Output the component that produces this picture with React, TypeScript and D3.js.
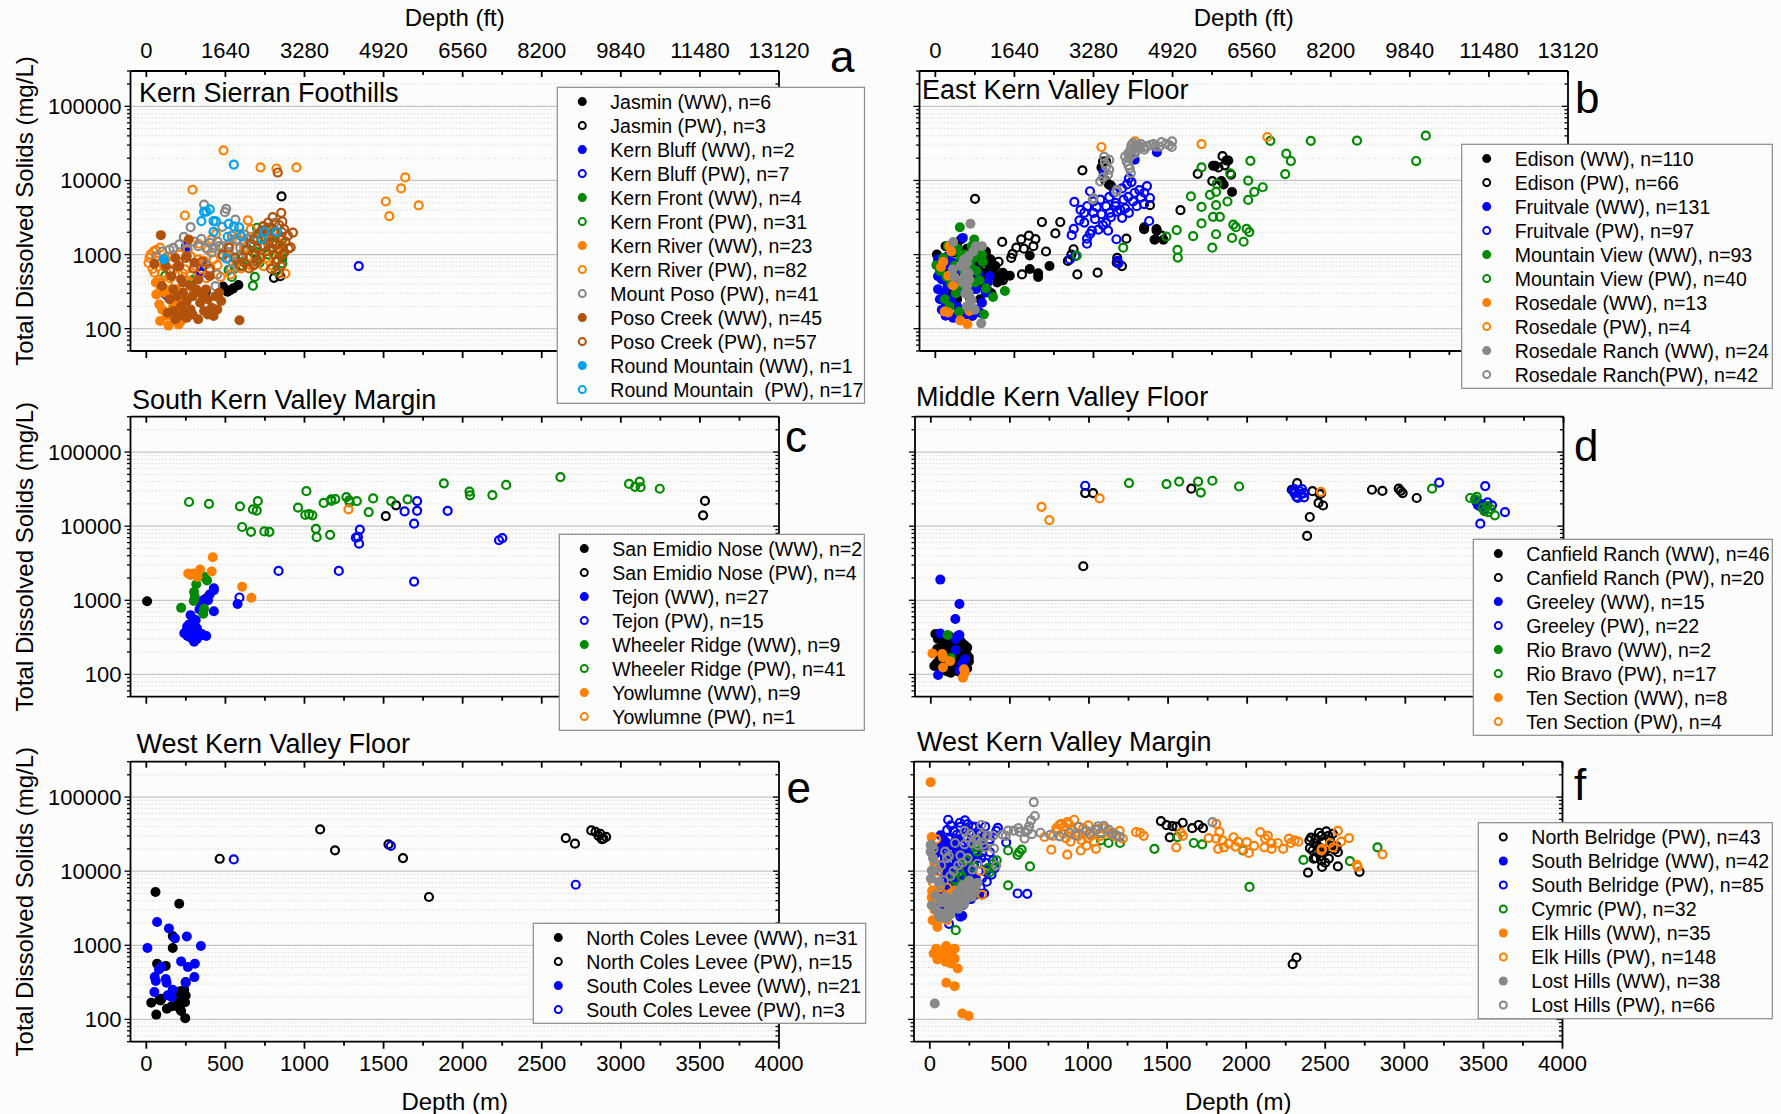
import React, { useEffect } from 'react';
import * as d3 from 'd3';

type Pt = [number, number]; // [depth m, TDS mg/L]

// ---------- a: Kern Sierran Foothills ----------
const aJasminWW: Pt[] = [[377, 318], [485, 370], [514, 316], [550, 350], [582, 388], [530, 330]];
const aJasminPW: Pt[] = [[855, 6100], [807, 485], [847, 510]];
const aKernBluffWW: Pt[] = [[251, 1300], [353, 700]];
const aKernBluffPW: Pt[] = [[1343, 700], [353, 570], [123, 290], [340, 600], [250, 1250], [360, 780], [140, 270]];
const aKernFrontWW: Pt[] = [[860, 900], [860, 1290], [775, 2300], [292, 440]];
const aKernFrontPW: Pt[] = [[674, 380], [686, 500], [679, 1050], [715, 770], [640, 1200], [700, 1600], [720, 2000], [760, 1800], [800, 1400], [830, 1100], [650, 900], [610, 700], [580, 800], [700, 2300], [745, 1300], [770, 1000], [820, 600], [860, 760], [120, 520], [300, 460], [560, 650], [620, 1500], [660, 1300], [690, 1100], [740, 2100], [790, 2300], [850, 1700], [600, 1000], [520, 620], [540, 500], [700, 850]];
const aKernRiverWW: Pt[] = [[87, 127], [205, 114], [82, 213], [63, 290], [87, 416], [184, 182], [208, 148], [220, 127], [120, 300], [150, 250], [170, 200], [100, 180], [130, 150], [195, 230], [230, 170], [160, 330], [110, 350], [240, 260], [60, 420], [190, 140], [140, 110], [175, 160], [215, 200]];
const aKernRiverPW: Pt[] = [[488, 25500], [722, 15000], [823, 14500], [949, 15000], [292, 7500], [1637, 11000], [1611, 7800], [1514, 5200], [1722, 4600], [1536, 3300], [244, 3370], [642, 2900], [879, 555], [27, 1000], [51, 570], [87, 1240], [135, 950], [171, 630], [208, 770], [244, 630], [280, 520], [328, 860], [365, 820], [389, 1170], [425, 860], [485, 1300], [534, 540], [570, 770], [642, 950], [666, 700], [763, 1600], [835, 1050], [14, 770], [111, 700], [232, 380], [135, 420], [184, 340], [280, 950], [413, 1600], [570, 1520], [618, 1240], [510, 1050], [40, 640], [70, 820], [100, 560], [150, 480], [200, 560], [260, 450], [310, 700], [350, 640], [400, 600], [450, 720], [520, 900], [600, 650], [700, 1200], [760, 900], [800, 700], [850, 1400], [60, 1150], [120, 880], [160, 760], [210, 1000], [260, 1150], [300, 300], [200, 260], [90, 350], [250, 200], [180, 130], [330, 1400], [440, 1900], [590, 1900], [680, 1700], [800, 2100], [20, 900], [45, 1100], [75, 450], [230, 560], [380, 480], [470, 500], [540, 1600], [660, 2200], [740, 700]];
const aMountPosoPW: Pt[] = [[365, 4730], [505, 4140], [497, 3730], [563, 2970], [280, 2340], [481, 2370], [348, 1630], [401, 1440], [425, 1230], [171, 1230], [63, 950], [461, 1300], [522, 1370], [618, 1870], [642, 1630], [437, 376], [449, 540], [534, 630], [739, 2420], [811, 2680], [147, 1170], [377, 1230], [570, 1600], [594, 1230], [522, 1060], [546, 775], [377, 736], [413, 1060], [485, 950], [328, 1300], [237, 1730], [582, 950], [666, 1370], [208, 1370], [300, 1500], [450, 1500], [540, 1800], [620, 1400], [700, 1900], [260, 1200], [100, 1100]];
const aPosoCreekWW: Pt[] = [[92, 1830], [51, 750], [589, 130], [147, 249], [171, 339], [196, 275], [220, 202], [232, 306], [256, 236], [280, 182], [292, 275], [316, 339], [340, 224], [365, 173], [389, 249], [413, 192], [437, 275], [461, 306], [473, 236], [208, 148], [256, 141], [171, 173], [184, 134], [232, 416], [280, 376], [208, 700], [256, 950], [268, 1600], [184, 900], [159, 510], [328, 460], [377, 339], [401, 510], [304, 775], [123, 700], [99, 376], [135, 164], [425, 148], [449, 182], [353, 290], [328, 134], [292, 156], [244, 173], [389, 156], [220, 460]];
const aPosoCreekPW: Pt[] = [[831, 12800], [853, 3660], [860, 2800], [872, 2200], [927, 1980], [913, 1250], [860, 1600], [799, 3200], [739, 2400], [770, 2700], [780, 1800], [800, 1500], [820, 1350], [840, 1150], [760, 1100], [740, 1300], [720, 900], [700, 800], [690, 1000], [650, 650], [594, 700], [401, 640], [522, 1240], [610, 920], [630, 1150], [660, 1400], [680, 1600], [710, 1900], [730, 2100], [750, 1700], [770, 1400], [790, 1200], [810, 1000], [830, 850], [850, 700], [870, 1050], [880, 1500], [895, 1800], [780, 2300], [810, 2000], [840, 2500], [860, 2000], [820, 800], [790, 640], [560, 900], [480, 1000], [300, 650], [350, 800], [200, 700], [150, 600], [250, 900], [700, 1200], [620, 780], [860, 1000], [900, 1200], [840, 560], [680, 720]];
const aRoundMtnWW: Pt[] = [[111, 860]];
const aRoundMtnPW: Pt[] = [[553, 16400], [365, 3770], [401, 4070], [348, 2830], [425, 2830], [440, 2800], [425, 2030], [553, 2400], [587, 2330], [599, 1770], [514, 1740], [729, 1630], [746, 2030], [823, 2030], [507, 880], [380, 3800], [520, 2600]];

// ---------- b: East Kern Valley Floor ----------
const bEdisonWW: Pt[] = [[10, 1000], [331, 910], [355, 775], [367, 630], [379, 510], [391, 420], [355, 300], [331, 330], [283, 376], [258, 460], [307, 570], [343, 700], [295, 775], [258, 1060], [210, 860], [162, 700], [113, 1060], [138, 1300], [162, 1600], [65, 1300], [41, 860], [89, 630], [186, 510], [234, 340], [283, 250], [89, 306], [138, 250], [471, 520], [597, 970], [722, 700], [597, 640], [650, 560], [650, 500], [1321, 2340], [1398, 2220], [1386, 1590], [1442, 1590], [1050, 15000], [1080, 18200], [1097, 8800], [1756, 15800], [1768, 15800], [1840, 18600], [1809, 9800], [1823, 8800], [1876, 7000], [415, 460], [427, 570], [300, 900], [320, 1100], [350, 860], [270, 700], [240, 600], [310, 450], [360, 560], [380, 700], [200, 1200], [230, 1000]];
const bEdisonPW: Pt[] = [[251, 5650], [423, 1480], [488, 1020], [512, 1240], [543, 1600], [592, 1800], [633, 1620], [674, 2750], [790, 2750], [759, 1930], [838, 820], [874, 1180], [898, 540], [1026, 570], [930, 13700], [1659, 12300], [1751, 9800], [1816, 21300], [1852, 18600], [1208, 1640], [1147, 780], [548, 540], [427, 450], [1357, 4640], [1550, 3970], [1060, 18000], [1075, 10000], [1110, 8500], [1400, 2100], [1430, 1800], [1830, 16000], [1790, 15000], [1870, 12000], [1320, 2200], [860, 1000], [700, 1100], [620, 1300], [560, 1200], [480, 900], [400, 800], [1150, 900], [1180, 700]];
const bFruitvaleWW: Pt[] = [[17, 860], [29, 630], [41, 460], [17, 340], [29, 250], [41, 180], [65, 150], [89, 156], [113, 140], [53, 306], [77, 376], [101, 250], [138, 200], [162, 164], [198, 156], [234, 148], [258, 182], [283, 164], [295, 224], [319, 306], [331, 420], [343, 510], [126, 510], [53, 860], [77, 950], [113, 775], [138, 376], [186, 306], [174, 1680], [246, 1060], [17, 510], [65, 224], [258, 340], [222, 250], [60, 700], [90, 420], [150, 600], [200, 450], [230, 700], [270, 560], [1063, 13000], [1261, 19000], [1401, 24000]];
const bFruitvalePW: Pt[] = [[879, 5140], [978, 7150], [918, 4000], [911, 2900], [875, 2220], [862, 1830], [959, 1640], [959, 1400], [886, 960], [850, 860], [1043, 5500], [1128, 6830], [1212, 8850], [1224, 10700], [1260, 6830], [1321, 6830], [1338, 8390], [1357, 5800], [1273, 4500], [1224, 3660], [1181, 3130], [1104, 3660], [1080, 2700], [1031, 2170], [1092, 2100], [1060, 2500], [1010, 3000], [1000, 3660], [1080, 4500], [1140, 4500], [1140, 5000], [1190, 5500], [1220, 6000], [942, 3660], [942, 2700], [990, 2100], [978, 1900], [1352, 2840], [1145, 1610], [1152, 823], [1157, 760], [1170, 4000], [1200, 4200], [1250, 5200], [1290, 7400], [1100, 6000], [1020, 4400], [1050, 3500], [1110, 3200], [1150, 3800], [1000, 5200], [960, 4500], [1240, 9500], [1180, 7800], [1300, 5900], [1320, 4800]];
const bMtnViewWW: Pt[] = [[155, 2340], [246, 1600], [295, 1000], [440, 322], [365, 267], [307, 156], [7, 720], [30, 600], [50, 900], [70, 500], [100, 400], [120, 700], [140, 1200], [160, 900], [180, 600], [200, 500], [220, 700], [240, 900], [260, 600], [280, 450], [300, 800], [320, 350], [60, 250], [90, 200], [130, 300], [170, 380], [210, 280], [250, 420], [190, 1000], [230, 1300], [270, 1100], [150, 170], [110, 1100], [80, 1300]];
const bMtnViewPW: Pt[] = [[3101, 40200], [3040, 18300], [2666, 34400], [2374, 34300], [2118, 34300], [2219, 23000], [2248, 18300], [2212, 12200], [1992, 18400], [1978, 9960], [2070, 8100], [2017, 7000], [1978, 5470], [1864, 12500], [1847, 5200], [1780, 8970], [1775, 7000], [1736, 6400], [1616, 6100], [1683, 15000], [1775, 4650], [1683, 4400], [1799, 3230], [1756, 3230], [1683, 2630], [1884, 2530], [1900, 2340], [1968, 2220], [1985, 2010], [1876, 1680], [1949, 1490], [1775, 1880], [1630, 1770], [1526, 2140], [1461, 1750], [1531, 1155], [1533, 910], [1751, 1240], [1188, 1240], [894, 970]];
const bRosedaleWW: Pt[] = [[89, 1300], [36, 680], [82, 520], [82, 165], [157, 129], [203, 115], [215, 173], [113, 383], [100, 1100], [200, 380], [60, 170], [50, 800], [170, 450]];
const bRosedalePW: Pt[] = [[2099, 38600], [1683, 31000], [1263, 33700], [1050, 28300]];
const bRosedaleRanchWW: Pt[] = [[222, 2600], [113, 1480], [258, 1300], [295, 1300], [210, 950], [186, 513], [198, 376], [210, 306], [222, 236], [290, 118], [186, 660], [110, 630], [200, 780], [230, 240], [170, 420], [190, 300], [210, 560], [180, 850], [240, 1100], [200, 200], [160, 700], [215, 460], [120, 500], [250, 180]];
const bRosedaleRanchPW: Pt[] = [[1497, 33700], [1495, 28300], [1459, 31300], [1417, 28700], [1393, 28700], [1321, 26000], [1292, 28700], [1260, 28700], [1236, 26400], [1220, 23200], [1224, 20000], [1220, 16100], [1236, 12600], [1067, 21000], [1072, 17100], [1099, 14000], [1092, 12000], [1043, 9700], [1145, 7000], [995, 5500], [1275, 30000], [1250, 32000], [1300, 31000], [1340, 29000], [1380, 31000], [1430, 33000], [1480, 30000], [1270, 25000], [1240, 22000], [1210, 18000], [1230, 14500], [1100, 19000], [1080, 15500], [1060, 11000], [1150, 7500], [1000, 5800], [1280, 27000], [1200, 21000], [1360, 30000], [1320, 28000], [1260, 23000], [1240, 30000]];

// ---------- c: South Kern Valley Margin ----------
const cSanEmidioWW: Pt[] = [[5, 970], [379, 1060]];
const cSanEmidioPW: Pt[] = [[1514, 13700], [1579, 19100], [3532, 21900], [3520, 14000]];
const cTejonWW: Pt[] = [[427, 1370], [427, 1450], [427, 710], [336, 750], [360, 1000], [312, 540], [280, 630], [258, 440], [251, 375], [240, 360], [283, 310], [302, 275], [336, 330], [379, 330], [312, 340], [290, 400], [320, 420], [350, 350], [270, 470], [577, 890], [390, 1000], [345, 850], [300, 380], [260, 330], [320, 300], [355, 760], [400, 1200]];
const cTejonPW: Pt[] = [[589, 1090], [836, 2490], [1217, 2490], [1693, 1790], [1350, 9000], [1338, 7160], [1325, 7000], [1345, 5800], [1633, 15800], [1693, 10800], [1712, 21800], [1712, 16100], [1905, 16100], [2230, 6460], [2251, 6900]];
const cWheelerWW: Pt[] = [[220, 790], [307, 1110], [302, 1290], [316, 1650], [365, 2070], [384, 1850], [300, 980], [365, 770], [360, 660]];
const cWheelerPW: Pt[] = [[270, 21200], [396, 20000], [592, 18500], [705, 21800], [674, 16800], [698, 16200], [606, 9750], [662, 8400], [746, 8500], [778, 8400], [959, 17800], [1012, 29700], [1005, 14200], [1029, 14500], [1072, 9220], [1077, 7100], [1162, 7650], [1121, 20600], [1169, 23000], [1195, 23200], [1265, 24700], [1282, 22300], [1331, 21800], [1406, 15500], [1434, 23700], [1548, 21800], [1652, 23000], [1881, 37800], [2043, 29300], [2046, 26100], [2188, 26300], [2275, 36000], [2618, 46000], [3052, 37100], [3090, 34000], [3119, 40000], [3125, 33500], [3246, 32000], [1286, 21000], [1170, 22000], [1050, 14000]];
const cYowlumneWW: Pt[] = [[265, 2300], [299, 2300], [324, 2070], [340, 2600], [420, 3800], [413, 2450], [606, 1520], [664, 1080], [280, 2200]];
const cYowlumnePW: Pt[] = [[1278, 16900]];

// ---------- d: Middle Kern Valley Floor ----------
const dCanfieldWW: Pt[] = [[29, 350], [60, 340], [65, 230], [100, 240], [40, 220], [22, 130], [35, 140], [126, 105], [160, 140], [210, 250], [215, 210], [210, 180], [241, 150], [205, 100], [190, 160], [150, 200], [110, 190], [70, 210], [90, 300], [130, 260], [180, 300], [200, 220], [220, 140], [230, 120], [170, 110], [140, 130], [80, 160], [50, 180], [120, 150], [195, 270], [225, 190], [100, 110], [60, 120], [150, 290], [170, 240], [240, 170], [200, 130], [130, 200], [90, 260], [45, 300], [185, 200], [210, 115], [160, 180], [75, 240], [115, 330], [230, 230]];
const dCanfieldPW: Pt[] = [[976, 28000], [1026, 28000], [964, 2880], [1647, 32100], [2316, 38200], [2282, 31000], [2413, 29700], [2468, 28000], [2451, 20600], [2480, 19000], [2396, 13300], [2379, 7380], [2789, 31000], [2855, 29900], [2958, 32100], [2983, 28000], [2970, 30000], [3072, 24000], [2300, 29000], [2460, 27000]];
const dGreeleyWW: Pt[] = [[60, 1900], [181, 890], [155, 560], [60, 356], [181, 340], [157, 300], [157, 213], [215, 160], [46, 98], [181, 114], [200, 140], [170, 330], [3461, 19000], [3450, 21000], [3480, 18000]];
const dGreeleyPW: Pt[] = [[976, 35100], [2299, 31700], [2347, 31700], [2311, 25000], [2360, 24500], [2360, 28000], [2299, 28000], [3214, 38700], [3505, 34800], [3474, 10800], [3548, 19100], [3630, 15500], [3447, 22400], [3470, 20000], [3500, 17000], [2330, 30000], [3490, 19500], [2320, 24000], [2340, 27000], [3520, 21000], [3460, 19500], [2290, 30500]];
const dRioBravoWW: Pt[] = [[106, 340], [126, 167]];
const dRioBravoPW: Pt[] = [[1253, 38200], [1490, 37000], [1570, 40000], [1690, 40000], [1707, 28400], [1780, 41000], [1949, 34300], [3169, 32100], [3410, 24000], [3452, 24800], [3488, 17600], [3518, 18600], [3524, 15500], [3566, 14000], [3440, 23000], [3540, 17000], [3500, 16000]];
const dTenSectionWW: Pt[] = [[10, 192], [72, 188], [77, 124], [121, 151], [210, 117], [203, 90], [215, 105], [77, 170]];
const dTenSectionPW: Pt[] = [[700, 18200], [749, 12100], [1067, 23700], [2466, 29000]];

// ---------- e: West Kern Valley Floor ----------
const eNorthColesWW: Pt[] = [[58, 5230], [208, 3640], [167, 1330], [167, 918], [68, 563], [123, 527], [31, 168], [82, 184], [95, 190], [63, 116], [130, 139], [213, 139], [213, 160], [222, 222], [249, 210], [249, 320], [246, 104], [230, 180], [210, 200], [190, 230], [240, 250], [220, 130], [200, 150], [235, 190], [215, 240], [245, 170], [205, 175], [225, 210], [90, 180], [160, 150], [185, 200]];
const eNorthColesPW: Pt[] = [[464, 14700], [1099, 36600], [1193, 19100], [1531, 23000], [1623, 15000], [1787, 4480], [2652, 28000], [2710, 23500], [2813, 35500], [2840, 34000], [2859, 30000], [2880, 27000], [2907, 29000], [2870, 32000], [2890, 27500]];
const eSouthColesWW: Pt[] = [[7, 918], [68, 2060], [143, 1690], [181, 1240], [256, 1310], [345, 977], [220, 606], [263, 508], [307, 563], [304, 372], [249, 313], [53, 372], [60, 330], [94, 508], [80, 470], [123, 350], [128, 313], [167, 251], [135, 211], [160, 200], [51, 234]];
const eSouthColesPW: Pt[] = [[553, 14400], [1546, 21900], [2715, 6560]];

// ---------- f: West Kern Valley Margin ----------
const fNorthBelridgePW: Pt[] = [[1461, 47400], [1497, 41800], [1534, 40600], [1599, 45000], [1560, 40000], [1517, 28600], [1659, 38000], [1727, 38000], [1700, 42000], [2294, 556], [2318, 684], [2391, 9560], [2427, 14760], [2475, 14000], [2410, 28300], [2439, 27500], [2475, 30000], [2507, 34400], [2548, 32000], [2572, 21600], [2463, 21000], [2511, 20000], [2403, 20500], [2430, 24000], [2523, 14800], [2480, 11400], [2580, 11600], [2717, 9800], [2490, 19000], [2450, 18000], [2560, 19500], [2450, 22000], [2530, 26000], [2490, 25000], [2420, 19000], [2470, 16000], [2540, 22000], [2580, 18000], [2400, 26000], [2520, 30000], [2460, 33000], [2500, 13000], [2440, 15000]];
const fSouthBelridgeWW: Pt[] = [[68, 30500], [36, 17200], [48, 11500], [121, 11500], [169, 14000], [217, 17200], [121, 7500], [145, 5800], [193, 5000], [266, 6100], [314, 5000], [48, 5000], [72, 3300], [121, 3500], [169, 3000], [205, 2500], [266, 14000], [338, 21000], [72, 21000], [100, 25000], [150, 22000], [190, 20000], [240, 9000], [290, 8000], [100, 9000], [60, 7000], [130, 9500], [170, 8000], [210, 11000], [250, 12000], [300, 15000], [95, 14000], [140, 16000], [180, 27000], [230, 19000], [80, 4000], [110, 6000], [160, 4500], [200, 7000], [230, 6000], [260, 4200], [140, 2800]];
const fSouthBelridgePW: Pt[] = [[116, 49400], [222, 48600], [133, 41600], [193, 39700], [110, 36000], [290, 39700], [314, 31700], [350, 30500], [430, 38500], [483, 24400], [374, 24400], [338, 22000], [217, 28800], [169, 20000], [97, 15000], [157, 11400], [193, 17200], [242, 16500], [290, 17200], [326, 15000], [350, 13000], [362, 10200], [242, 9600], [72, 9800], [48, 15000], [121, 27000], [181, 3840], [193, 2440], [121, 1950], [555, 5000], [616, 4950], [343, 5000], [36, 4000], [150, 35000], [250, 33000], [270, 27000], [300, 22000], [160, 25000], [200, 22000], [250, 20000], [280, 12000], [310, 10000], [330, 8000], [260, 6500], [200, 5500], [150, 6500], [100, 7500], [60, 12000], [80, 22000], [130, 18000], [220, 12500], [180, 9000], [140, 8000], [300, 27000], [380, 18000], [400, 14000], [420, 35000], [350, 40000], [240, 43000], [170, 31000], [130, 13000], [110, 5500], [170, 2900], [140, 4200], [210, 3500], [230, 7800], [280, 4700], [320, 6000], [360, 7200], [390, 9000], [410, 11000], [270, 40000], [190, 45000], [150, 13000], [90, 3000], [60, 2500], [200, 15000], [260, 25000], [330, 18000], [380, 27000], [100, 20000], [310, 35000], [230, 36000], [160, 8500], [120, 4800]];
const fCymricPW: Pt[] = [[2830, 21000], [2656, 13700], [2362, 14200], [2021, 6120], [1980, 19000], [1722, 23000], [1669, 24000], [1565, 28800], [1420, 20000], [1203, 24000], [1130, 24000], [1082, 26100], [633, 11600], [555, 16600], [580, 19500], [565, 18000], [495, 19000], [495, 6450], [423, 14000], [379, 9700], [367, 11000], [186, 9800], [164, 1600], [157, 7700], [278, 11500], [290, 21000], [200, 8500], [230, 14000], [400, 12500], [300, 18500], [250, 7000], [170, 6000]];
const fElkHillsWW: Pt[] = [[5, 159000], [12, 28800], [29, 12600], [14, 5400], [12, 4400], [17, 2180], [53, 2200], [109, 2170], [48, 1770], [24, 775], [48, 643], [77, 720], [104, 980], [157, 900], [157, 660], [133, 567], [176, 486], [104, 312], [157, 281], [205, 120], [246, 111], [60, 800], [90, 850], [120, 780], [140, 720], [70, 690], [100, 600], [40, 900], [130, 5000], [100, 4600], [60, 6000], [160, 5500], [30, 3000], [80, 2500], [150, 4200]];
const fElkHillsPW: Pt[] = [[725, 28900], [768, 19500], [809, 35500], [833, 43600], [869, 46000], [913, 49400], [869, 16700], [954, 19000], [845, 32000], [920, 33000], [970, 38000], [1002, 41500], [1014, 32000], [990, 22100], [1020, 30000], [1063, 37000], [1123, 34000], [1220, 27500], [1304, 33600], [1352, 30000], [1330, 33000], [1558, 21000], [1587, 33000], [1811, 43500], [1831, 34000], [1763, 28000], [1811, 27500], [1823, 20000], [1860, 21000], [1889, 23600], [1920, 28700], [1932, 21500], [1980, 19500], [2004, 24700], [2017, 17600], [2089, 33600], [2120, 27500], [2115, 21000], [2137, 30000], [2161, 23800], [2161, 20000], [2234, 20000], [2270, 27500], [2306, 26000], [2282, 24000], [2475, 19000], [2531, 24000], [2580, 35000], [2705, 11400], [2862, 16900], [2700, 12200], [800, 38000], [820, 42000], [850, 40000], [880, 43000], [900, 36000], [940, 30000], [960, 26000], [1000, 28000], [1040, 25000], [1080, 30000], [1100, 38000], [1160, 33000], [1180, 29000], [1200, 35000], [860, 28000], [780, 30000], [890, 25000], [1050, 20000], [1150, 31000], [1600, 30000], [1850, 26000], [1950, 25000], [2050, 22000], [2200, 24000], [2330, 25000], [2480, 20000], [2550, 21000], [2600, 25000], [2650, 28000], [40, 27000], [30, 13000], [50, 10000], [110, 6000], [320, 10000], [330, 4800], [60, 4200], [20, 7000]];
const fLostHillsWW: Pt[] = [[31, 164], [5, 22500], [5, 18300], [12, 10200], [7, 7900], [12, 3460], [36, 4700], [60, 7100], [72, 3800], [145, 3600], [169, 5000], [193, 5800], [230, 5200], [254, 6000], [278, 5000], [230, 4200], [97, 4500], [121, 3200], [181, 3100], [72, 2700], [109, 3600], [290, 6200], [302, 7000], [266, 4500], [157, 4400], [217, 3600], [60, 2400], [40, 3000], [200, 4000], [130, 2600], [250, 7500], [285, 5800], [210, 6500], [180, 4300], [100, 2300], [20, 10000], [20, 15000], [150, 3400]];
const fLostHillsPW: Pt[] = [[657, 85500], [664, 55500], [640, 48600], [628, 40400], [645, 31600], [326, 42000], [254, 31700], [242, 28000], [290, 27000], [302, 22400], [362, 30500], [406, 20200], [400, 30000], [459, 31000], [495, 35300], [531, 35300], [568, 34000], [604, 34000], [599, 27500], [761, 31000], [821, 29500], [942, 39700], [923, 30500], [990, 35000], [1063, 40400], [1050, 36000], [1130, 36300], [1179, 30500], [1080, 33000], [1010, 32000], [1787, 46000], [12, 22500], [97, 18300], [109, 15000], [48, 9000], [68, 6400], [121, 16000], [130, 8600], [193, 16300], [205, 13000], [302, 12600], [24, 20000], [36, 11500], [72, 12000], [90, 7500], [240, 15000], [270, 10500], [150, 10000], [180, 12000], [420, 12000], [340, 23000], [270, 24000], [220, 23000], [160, 24000], [700, 33000], [620, 36000], [560, 38000], [480, 30000], [330, 31000], [1150, 32000], [1200, 29000], [1100, 41000], [880, 33000], [300, 26000], [220, 35000], [350, 21000]];

// ---------- axes ----------
const depthTicks = [0, 500, 1000, 1500, 2000, 2500, 3000, 3500, 4000];
const depthMinor = [250, 750, 1250, 1750, 2250, 2750, 3250, 3750];
const ftLabels = ['0', '1640', '3280', '4920', '6560', '8200', '9840', '11480', '13120'];
const tdsMajor = [100, 1000, 10000, 100000];
const tdsMinor = [50, 60, 70, 80, 90, 200, 300, 400, 500, 600, 700, 800, 900, 2000, 3000, 4000, 5000, 6000, 7000, 8000, 9000, 20000, 30000, 40000, 50000, 60000, 70000, 80000, 90000, 200000, 300000];

const C = { black: '#000000', blue: '#0000ff', green: '#008a00', orange: '#ff8000', gray: '#888888', brown: '#b0520c', sky: '#00a2ee' };
const FONT = "'Liberation Sans', Arial, sans-serif";
const BG = '#fcfcfc';
const PW = 648.5;
const PH = 280;

type Series = { label: string; color: string; filled: boolean; data: Pt[] };
type PanelCfg = {
  letter: string; left: number; top: number; title: string; tx: number; ty: number;
  lx: number; ly: number; legend: { x: number; y: number; w: number };
  ftAxis: boolean; mAxis: boolean; yLabels: boolean; series: Series[];
};

const s = (label: string, color: string, filled: boolean, data: Pt[]): Series => ({ label, color, filled, data });

const panels: PanelCfg[] = [
  {
    letter: 'a', left: 130.5, top: 71, title: 'Kern Sierran Foothills', tx: 139, ty: 101.5, lx: 830, ly: 72,
    legend: { x: 557.3, y: 87.3, w: 307.2 }, ftAxis: true, mAxis: false, yLabels: true,
    series: [
      s('Jasmin (WW), n=6', C.black, true, aJasminWW),
      s('Jasmin (PW), n=3', C.black, false, aJasminPW),
      s('Kern Bluff (WW), n=2', C.blue, true, aKernBluffWW),
      s('Kern Bluff (PW), n=7', C.blue, false, aKernBluffPW),
      s('Kern Front (WW), n=4', C.green, true, aKernFrontWW),
      s('Kern Front (PW), n=31', C.green, false, aKernFrontPW),
      s('Kern River (WW), n=23', C.orange, true, aKernRiverWW),
      s('Kern River (PW), n=82', C.orange, false, aKernRiverPW),
      s('Mount Poso (PW), n=41', C.gray, false, aMountPosoPW),
      s('Poso Creek (WW), n=45', C.brown, true, aPosoCreekWW),
      s('Poso Creek (PW), n=57', C.brown, false, aPosoCreekPW),
      s('Round Mountain (WW), n=1', C.sky, true, aRoundMtnWW),
      s('Round Mountain  (PW), n=17', C.sky, false, aRoundMtnPW),
    ],
  },
  {
    letter: 'b', left: 919.5, top: 71, title: 'East Kern Valley Floor', tx: 922, ty: 99, lx: 1575, ly: 112.5,
    legend: { x: 1461.7, y: 144.3, w: 310.6 }, ftAxis: true, mAxis: false, yLabels: false,
    series: [
      s('Edison (WW), n=110', C.black, true, bEdisonWW),
      s('Edison (PW), n=66', C.black, false, bEdisonPW),
      s('Fruitvale (WW), n=131', C.blue, true, bFruitvaleWW),
      s('Fruitvale (PW), n=97', C.blue, false, bFruitvalePW),
      s('Mountain View (WW), n=93', C.green, true, bMtnViewWW),
      s('Mountain View (PW), n=40', C.green, false, bMtnViewPW),
      s('Rosedale (WW), n=13', C.orange, true, bRosedaleWW),
      s('Rosedale (PW), n=4', C.orange, false, bRosedalePW),
      s('Rosedale Ranch (WW), n=24', C.gray, true, bRosedaleRanchWW),
      s('Rosedale Ranch(PW), n=42', C.gray, false, bRosedaleRanchPW),
    ],
  },
  {
    letter: 'c', left: 130.5, top: 416.7, title: 'South Kern Valley Margin', tx: 132, ty: 409.3, lx: 785, ly: 451.7,
    legend: { x: 559.3, y: 534.3, w: 305 }, ftAxis: false, mAxis: false, yLabels: true,
    series: [
      s('San Emidio Nose (WW), n=2', C.black, true, cSanEmidioWW),
      s('San Emidio Nose (PW), n=4', C.black, false, cSanEmidioPW),
      s('Tejon (WW), n=27', C.blue, true, cTejonWW),
      s('Tejon (PW), n=15', C.blue, false, cTejonPW),
      s('Wheeler Ridge (WW), n=9', C.green, true, cWheelerWW),
      s('Wheeler Ridge (PW), n=41', C.green, false, cWheelerPW),
      s('Yowlumne (WW), n=9', C.orange, true, cYowlumneWW),
      s('Yowlumne (PW), n=1', C.orange, false, cYowlumnePW),
    ],
  },
  {
    letter: 'd', left: 915, top: 416.7, title: 'Middle Kern Valley Floor', tx: 916, ty: 406, lx: 1574, ly: 461,
    legend: { x: 1473.3, y: 539.3, w: 299 }, ftAxis: false, mAxis: false, yLabels: false,
    series: [
      s('Canfield Ranch (WW), n=46', C.black, true, dCanfieldWW),
      s('Canfield Ranch (PW), n=20', C.black, false, dCanfieldPW),
      s('Greeley (WW), n=15', C.blue, true, dGreeleyWW),
      s('Greeley (PW), n=22', C.blue, false, dGreeleyPW),
      s('Rio Bravo (WW), n=2', C.green, true, dRioBravoWW),
      s('Rio Bravo (PW), n=17', C.green, false, dRioBravoPW),
      s('Ten Section (WW), n=8', C.orange, true, dTenSectionWW),
      s('Ten Section (PW), n=4', C.orange, false, dTenSectionPW),
    ],
  },
  {
    letter: 'e', left: 130.5, top: 761.7, title: 'West Kern Valley Floor', tx: 136.5, ty: 753.3, lx: 786.5, ly: 803,
    legend: { x: 533.3, y: 923.3, w: 332.4 }, ftAxis: false, mAxis: true, yLabels: true,
    series: [
      s('North Coles Levee (WW), n=31', C.black, true, eNorthColesWW),
      s('North Coles Levee (PW), n=15', C.black, false, eNorthColesPW),
      s('South Coles Levee (WW), n=21', C.blue, true, eSouthColesWW),
      s('South Coles Levee (PW), n=3', C.blue, false, eSouthColesPW),
    ],
  },
  {
    letter: 'f', left: 914, top: 761.7, title: 'West Kern Valley Margin', tx: 917, ty: 750.7, lx: 1574, ly: 800,
    legend: { x: 1478.3, y: 822.7, w: 294 }, ftAxis: false, mAxis: true, yLabels: false,
    series: [
      s('North Belridge (PW), n=43', C.black, false, fNorthBelridgePW),
      s('South Belridge (WW), n=42', C.blue, true, fSouthBelridgeWW),
      s('South Belridge (PW), n=85', C.blue, false, fSouthBelridgePW),
      s('Cymric (PW), n=32', C.green, false, fCymricPW),
      s('Elk Hills (WW), n=35', C.orange, true, fElkHillsWW),
      s('Elk Hills (PW), n=148', C.orange, false, fElkHillsPW),
      s('Lost Hills (WW), n=38', C.gray, true, fLostHillsWW),
      s('Lost Hills (PW), n=66', C.gray, false, fLostHillsPW),
    ],
  },
];

const Marker = ({ cx, cy, color, filled, legend }: { cx: number; cy: number; color: string; filled: boolean; legend?: boolean }) =>
  filled
    ? <circle cx={cx} cy={cy} r={legend ? 4.5 : 5} fill={color} />
    : <circle cx={cx} cy={cy} r={legend ? 3.5 : 4} fill="none" stroke={color} strokeWidth={legend ? 2 : 2.2} />;

function Panel({ p }: { p: PanelCfg }) {
  const x = d3.scaleLinear().domain([-100, 4000]).range([p.left, p.left + PW]);
  const y = d3.scaleLog().domain([50, 300000]).range([p.top + PH, p.top]);
  const L = p.left, R = p.left + PW, T = p.top, B = p.top + PH;
  const clipId = `clip-${p.letter}`;
  const lg = p.legend;
  const lh = 24 * p.series.length + 4;
  return (
    <g>
      <defs>
        <clipPath id={clipId}><rect x={L} y={T} width={PW} height={PH} /></clipPath>
      </defs>
      {/* grid */}
      {tdsMinor.map(v => (
        <line key={'gm' + v} x1={L} x2={R} y1={y(v)} y2={y(v)} stroke="#d4d4d4" strokeWidth={0.8} strokeDasharray="1.5,2" />
      ))}
      {tdsMajor.map(v => (
        <line key={'gM' + v} x1={L} x2={R} y1={y(v)} y2={y(v)} stroke="#c4c4c4" strokeWidth={1.2} />
      ))}
      {/* points */}
      <g clipPath={`url(#${clipId})`}>
        {p.series.map((se, i) => (
          <g key={i}>
            {se.data.map((d, j) => <Marker key={j} cx={x(d[0])} cy={y(d[1])} color={se.color} filled={se.filled} />)}
          </g>
        ))}
      </g>
      {/* axes frame */}
      <g stroke="#000" strokeWidth={1.8} fill="none">
        <line x1={L} x2={R} y1={T} y2={T} />
        <line x1={L} x2={R} y1={B} y2={B} />
        <line x1={L} x2={L} y1={T} y2={B} />
        <line x1={R} x2={R} y1={T} y2={B} />
        {depthTicks.map(v => <line key={'bt' + v} x1={x(v)} x2={x(v)} y1={B} y2={B + 7} />)}
        {depthMinor.map(v => <line key={'bm' + v} x1={x(v)} x2={x(v)} y1={B} y2={B + 4} />)}
        {depthTicks.map(v => <line key={'tt' + v} x1={x(v)} x2={x(v)} y1={T} y2={T + 6} />)}
        {depthMinor.map(v => <line key={'tm' + v} x1={x(v)} x2={x(v)} y1={T} y2={T + 4} />)}
      </g>
      <g stroke="#000" strokeWidth={1.3}>
        {tdsMajor.map(v => <line key={'lt' + v} x1={L - 6} x2={L} y1={y(v)} y2={y(v)} />)}
        {tdsMinor.map(v => <line key={'lm' + v} x1={L - 3.5} x2={L} y1={y(v)} y2={y(v)} />)}
        {tdsMajor.map(v => <line key={'rt' + v} x1={R - 6} x2={R} y1={y(v)} y2={y(v)} />)}
        {tdsMinor.map(v => <line key={'rm' + v} x1={R - 3.5} x2={R} y1={y(v)} y2={y(v)} />)}
      </g>
      {/* labels */}
      {p.yLabels && tdsMajor.map(v => (
        <text key={'yl' + v} x={L - 9} y={y(v)} dy="0.36em" textAnchor="end" fontSize={22}>{v}</text>
      ))}
      {p.yLabels && (
        <text transform={`translate(24,${(T + B) / 2}) rotate(-90)`} textAnchor="middle" dy="0.36em" fontSize={24}>
          Total Dissolved Solids (mg/L)
        </text>
      )}
      {p.ftAxis && depthTicks.map((v, i) => (
        <text key={'ft' + v} x={x(v)} y={T - 12.7} textAnchor="middle" fontSize={22}>{ftLabels[i]}</text>
      ))}
      {p.ftAxis && <text x={(L + R) / 2} y={26} textAnchor="middle" fontSize={24}>Depth (ft)</text>}
      {p.mAxis && depthTicks.map(v => (
        <text key={'m' + v} x={x(v)} y={B + 21.6} dy="0.36em" textAnchor="middle" fontSize={22}>{v}</text>
      ))}
      {p.mAxis && <text x={(L + R) / 2} y={B + 68} textAnchor="middle" fontSize={24}>Depth (m)</text>}
      <text x={p.tx} y={p.ty} fontSize={27}>{p.title}</text>
      <text x={p.lx} y={p.ly} fontSize={44}>{p.letter}</text>
      {/* legend */}
      <g>
        <rect x={lg.x} y={lg.y} width={lg.w} height={lh} fill={BG} stroke="#8a8a8a" strokeWidth={1.2} />
        {p.series.map((se, i) => {
          const cy = lg.y + 14.3 + i * 24;
          return (
            <g key={'lg' + i}>
              <Marker cx={lg.x + 25} cy={cy} color={se.color} filled={se.filled} legend />
              <text x={lg.x + 53} y={cy} dy="0.36em" fontSize={19.5} style={{ whiteSpace: 'pre' }}>{se.label}</text>
            </g>
          );
        })}
      </g>
    </g>
  );
}

export default function App() {
  useEffect(() => {
    document.body.style.margin = '0';
    document.body.style.background = BG;
  }, []);
  return (
    <svg width={1781} height={1114} style={{ display: 'block' }} fontFamily={FONT} fill="#000">
      <rect width={1781} height={1114} fill={BG} />
      {panels.map(p => <Panel key={p.letter} p={p} />)}
    </svg>
  );
}
